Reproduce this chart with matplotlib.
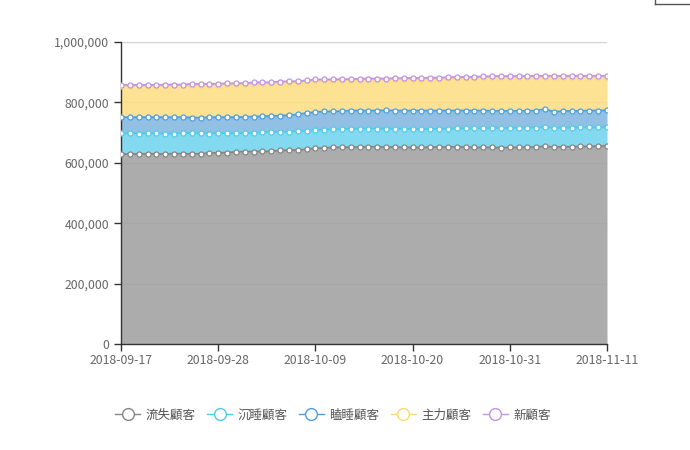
import matplotlib
matplotlib.use("Agg")
import matplotlib.pyplot as plt
from matplotlib.lines import Line2D
import numpy as np
import pandas as pd

plt.rcParams['font.family'] = ['Noto Sans CJK TC', 'DejaVu Sans']

# fechas: 2018-09-17 .. 2018-11-11 (56 días)
dates = pd.date_range("2018-09-17", "2018-11-11", freq="D").strftime("%Y-%m-%d").tolist()

series_names = ["流失顧客", "沉睡顧客", "瞌睡顧客", "主力顧客", "新顧客"]

lost = [629000, 629000, 629000, 630000, 629000, 629000, 630000, 630000, 629000, 630000,
        632000, 633000, 634000, 636000, 637000, 637000, 638000, 638000, 641000, 642000,
        642000, 645000, 648000, 649000, 651000, 651000, 652000, 652000, 653000, 653000,
        652000, 652000, 651000, 651000, 651000, 652000, 652000, 652000, 653000, 652000,
        651000, 651000, 651000, 650000, 651000, 651000, 652000, 652000, 655000, 652000,
        653000, 653000, 654000, 654000, 655000, 656000]
sleeping = [69000, 69000, 68000, 68000, 69000, 68000, 67000, 68000, 69000, 68000,
            65000, 65000, 64000, 62000, 61000, 62000, 63000, 64000, 61000, 61000,
            63000, 61000, 59000, 61000, 60000, 60000, 61000, 61000, 60000, 60000,
            61000, 61000, 61000, 61000, 60000, 60000, 60000, 61000, 61000, 62000,
            63000, 64000, 64000, 65000, 64000, 65000, 64000, 64000, 64000, 63000,
            63000, 63000, 63000, 63000, 62000, 62000]
drowsy = [53000, 53000, 54000, 53000, 53000, 54000, 54000, 53000, 52000, 51000,
          54000, 53000, 53000, 53000, 54000, 54000, 53000, 53000, 54000, 55000,
          55000, 59000, 61000, 60000, 59000, 60000, 60000, 60000, 60000, 60000,
          61000, 60000, 61000, 61000, 62000, 61000, 61000, 60000, 59000, 59000,
          59000, 58000, 57000, 57000, 57000, 56000, 56000, 57000, 59000, 54000,
          55000, 56000, 55000, 56000, 56000, 56000]
main = [104000, 104000, 104000, 104000, 104000, 105000, 105000, 105000, 108000, 109000,
        107000, 108000, 109000, 109000, 109000, 110000, 109000, 109000, 110000, 109000,
        107000, 105000, 105000, 103000, 103000, 103000, 101000, 102000, 103000, 103000,
        102000, 104000, 104000, 105000, 105000, 106000, 106000, 107000, 108000, 108000,
        109000, 110000, 112000, 112000, 112000, 112000, 113000, 112000, 107000, 116000,
        114000, 113000, 113000, 112000, 112000, 111000]
new = [3000, 2900, 3100, 3000, 2800, 3000, 3100, 2900, 3000, 3000,
       3100, 2900, 3000, 3000, 3000, 3100, 2900, 3000, 3000, 2900,
       3000, 3100, 3000, 3000, 2900, 3000, 3000, 3100, 3000, 2900,
       3000, 3000, 3100, 3000, 2900, 3000, 3000, 3000, 3100, 2900,
       3000, 3000, 3000, 3100, 3000, 2900, 3000, 3000, 3000, 3100,
       3000, 2900, 3000, 3000, 3000, 3000]

line_colors = ["#858585", "#4fcbea", "#4f9fdc", "#fbd870", "#c394e0"]
fill_colors = ["#a3a3a3", "#76d5ee", "#86b8e2", "#fedf88", "#d9b8ee"]

fig = plt.figure(figsize=(6.9, 4.5), dpi=100)
ax = fig.add_axes([121 / 690, 106 / 450, 486 / 690, 302 / 450])

x = np.arange(len(dates))
values = [lost, sleeping, drowsy, main, new]

# grid debajo
ax.set_axisbelow(True)
ax.yaxis.grid(True, color="#d2d2d2", linewidth=1)

bottom = np.zeros(len(x))
for vals, lc, fc in zip(values, line_colors, fill_colors):
    top = bottom + np.array(vals)
    ax.fill_between(x, bottom, top, color=fc, alpha=0.9, linewidth=0, zorder=2)
    bottom = top

# líneas y marcadores encima
bottom = np.zeros(len(x))
for vals, lc in zip(values, line_colors):
    top = bottom + np.array(vals)
    ax.plot(x, top, color=lc, linewidth=1.3, marker="o", markersize=3.6,
            markerfacecolor="white", markeredgecolor=lc, markeredgewidth=0.9, zorder=3)
    bottom = top

ax.set_xlim(0, len(x) - 1)
ax.set_ylim(0, 1000000)
ax.set_yticks([0, 200000, 400000, 600000, 800000, 1000000])
ax.set_yticklabels(["{:,}".format(v) for v in [0, 200000, 400000, 600000, 800000, 1000000]])
tick_idx = [0, 11, 22, 33, 44, 55]
ax.set_xticks(tick_idx)
ax.set_xticklabels([dates[i] for i in tick_idx])

for s in ["top", "right"]:
    ax.spines[s].set_visible(False)
for s in ["left", "bottom"]:
    ax.spines[s].set_color("#333333")
    ax.spines[s].set_linewidth(1)
ax.tick_params(axis="both", colors="#333333", labelcolor="#666666", labelsize=8.8,
               length=5, width=1)
ax.tick_params(axis="x", pad=2)

handles = [Line2D([0], [0], color=c, linewidth=1.0, marker="o", markersize=8.5,
                  markerfacecolor="white", markeredgecolor=c, markeredgewidth=1.0)
           for c in line_colors]
fig.legend(handles, series_names, loc="center", bbox_to_anchor=(333 / 690, 1 - 415 / 450),
           ncol=5, frameon=False, fontsize=9, handlelength=2.0, handletextpad=0.45,
           columnspacing=0.9, labelcolor="#555555")

# pequeño marco en la esquina superior derecha
fig.add_artist(Line2D([655 / 690, 655 / 690], [1, 1 - 4 / 450], color="#555555", linewidth=1))
fig.add_artist(Line2D([655 / 690, 1], [1 - 4 / 450, 1 - 4 / 450], color="#555555", linewidth=1))

fig.savefig("out.png", dpi=100)
